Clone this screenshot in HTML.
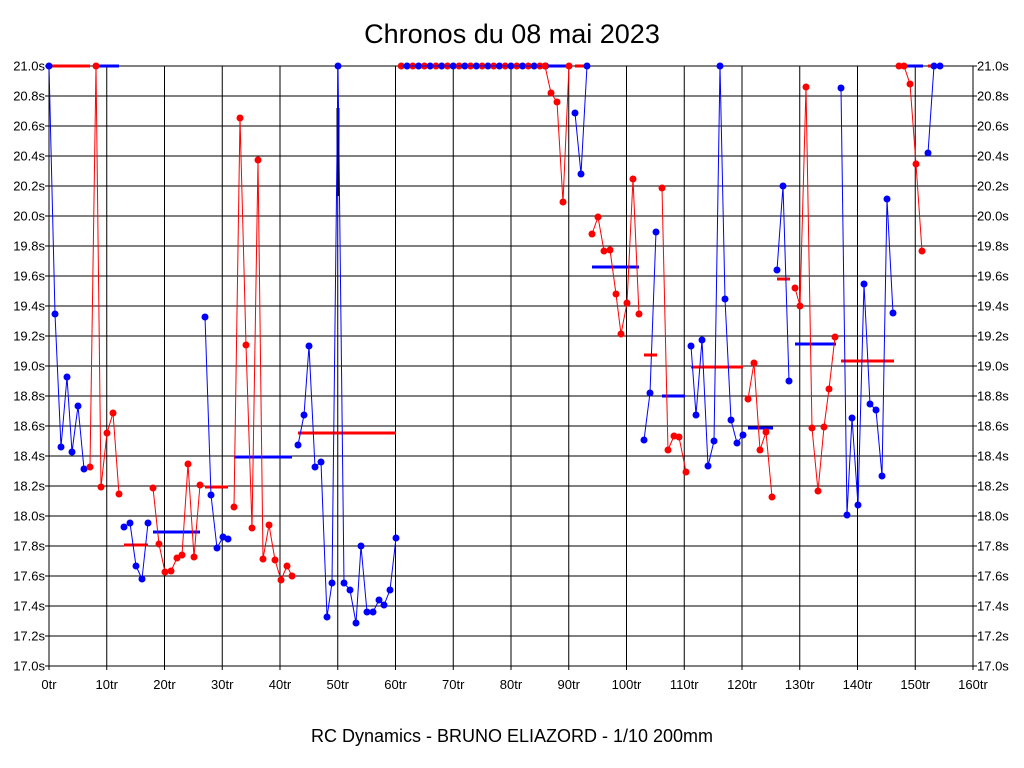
<!DOCTYPE html>
<html><head><meta charset="utf-8"><style>
html,body{margin:0;padding:0;background:#fff;}
svg{display:block;font-family:"Liberation Sans",Arial,sans-serif;}
</style></head><body>
<svg id="s" width="1024" height="768" viewBox="0 0 1024 768" xmlns="http://www.w3.org/2000/svg">
<rect x="0" y="0" width="1024" height="768" fill="#fff"/>
<text x="512" y="43" font-size="27" text-anchor="middle">Chronos du 08 mai 2023</text>
<text x="512" y="742" font-size="18" text-anchor="middle">RC Dynamics - BRUNO ELIAZORD - 1/10 200mm</text>
<g id="g"></g>
</svg>
<script>
var NS="http://www.w3.org/2000/svg",g=document.getElementById('g');
function el(t,a,txt){var e=document.createElementNS(NS,t);for(var k in a)e.setAttribute(k,a[k]);if(txt!==undefined)e.textContent=txt;g.appendChild(e);return e;}
var L=49,R=973,T=66,B=666;
for(var i=0;i<=16;i++){var x=L+i*(R-L)/16;el('line',{x1:x,y1:T,x2:x,y2:B+4,stroke:'#000','stroke-width':1});
el('text',{x:x,y:689,'font-size':13,'text-anchor':'middle'},(i*10)+'tr');}
for(var j=0;j<=20;j++){var y=T+j*30;el('line',{x1:L-4,y1:y,x2:R+4,y2:y,stroke:'#000','stroke-width':1});
var v=(21-j*0.2).toFixed(1)+'s';
el('text',{x:45,y:y+4.5,'font-size':13,'text-anchor':'end'},v);
el('text',{x:977,y:y+4.5,'font-size':13,'text-anchor':'start'},v);}
el('rect',{x:L,y:T,width:R-L,height:B-T,fill:'none',stroke:'#000','stroke-width':1});
var B_='#0000ff',RD='#ff0000';
var series=[
[B_,[[49,66],[55,314],[61,447],[67,377],[72,452],[78,406],[84,469]]],
[RD,[[90,467],[96,66],[101,487],[107,433],[113,413],[119,494]]],
[B_,[[124,527],[130,523],[136,566],[142,579],[148,523]]],
[RD,[[153,488],[159,544],[165,572],[171,571],[177,558],[182,555],[188,464],[194,557],[200,485]]],
[B_,[[205,317],[211,495],[217,548],[223,537],[228,539]]],
[RD,[[234,507],[240,118],[246,345],[252,528],[258,160],[263,559],[269,525],[275,560],[281,580],[287,566],[292,576]]],
[B_,[[298,445],[304,415],[309,346],[315,467],[321,462],[327,617],[332,583],[338,66],[344,583],[350,590],[356,623],[361,546],[367,612],[373,612],[379,600],[384,605],[390,590],[396,538]]],
[RD,[[545,66],[551,93],[557,102],[563,202],[569,66]]],
[B_,[[575,113],[581,174],[587,66]]],
[RD,[[592,234],[598,217],[604,251],[610,250],[616,294],[621,334],[627,303],[633,179],[639,314]]],
[B_,[[644,440],[650,393],[656,232]]],
[RD,[[662,188],[668,450],[674,436],[679,437],[686,472]]],
[B_,[[691,346],[696,415],[702,340],[708,466],[714,441],[720,66],[725,299],[731,420],[737,443],[743,435]]],
[RD,[[748,399],[754,363],[760,450],[766,432],[772,497]]],
[B_,[[777,270],[783,186],[789,381]]],
[RD,[[795,288],[800,306],[806,87],[812,428],[818,491],[824,427],[829,389],[835,337]]],
[B_,[[841,88],[847,515],[852,418],[858,505],[864,284],[870,404],[876,410],[882,476],[887,199],[893,313]]],
[RD,[[899,66],[904,66],[910,84],[916,164],[922,251]]],
[B_,[[928,153],[934,66],[940,66]]]
];
var bars=[[RD,49,90,66],[B_,96,119,66],[RD,124,148,545],[B_,153,200,532],[RD,205,228,487],[B_,234,292,457],[RD,298,396,433],
[B_,545,569,66],[RD,575,587,66],[B_,592,639,267],[RD,644,657,355],[B_,662,685,396],[RD,691,743,367],[B_,748,773,428],[RD,777,790,279],[B_,795,836,344],[RD,841,894,361],[B_,900,923,66],[RD,928,940,66]];
bars.forEach(function(b){el('line',{x1:b[1],y1:b[3],x2:b[2],y2:b[3],stroke:b[0],'stroke-width':3});});
el('line',{x1:338,y1:108,x2:338,y2:196,stroke:'#000','stroke-width':3});
series.forEach(function(s){el('polyline',{points:s[1].map(function(p){return p.join(',')}).join(' '),fill:'none',stroke:s[0],'stroke-width':1});});
// top row 61..86tr
for(var t=61;t<=86;t++){var x=L+t*(R-L)/160;el('circle',{cx:x,cy:66,r:3.5,fill:(t%2?RD:B_)});}
el('line',{x1:401,y1:66,x2:545,y2:66,stroke:B_,'stroke-width':1});
series.forEach(function(s){s[1].forEach(function(p){el('circle',{cx:p[0],cy:p[1],r:3.5,fill:s[0]});});});
</script>
</body></html>
